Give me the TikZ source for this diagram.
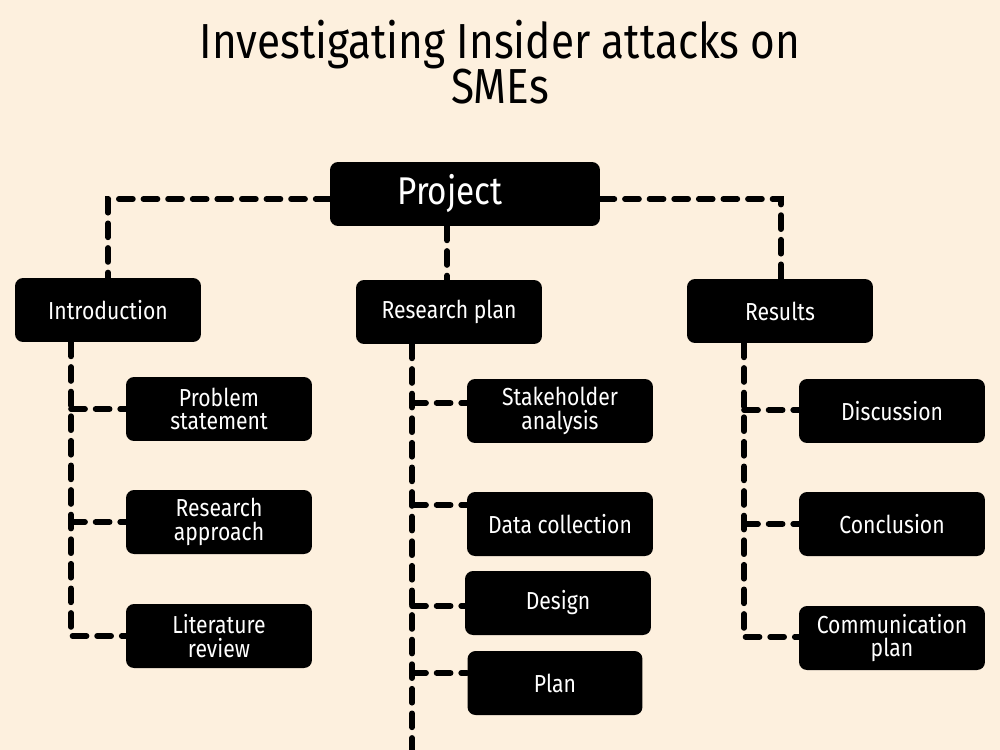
\documentclass[tikz,border=0pt]{standalone}
\usepackage{fontspec}
\setmainfont{Fira Sans}[FakeStretch=0.86]
\definecolor{cream}{HTML}{FDF0DE}
\tikzset{
	box/.style={fill=black, text=white, rounded corners=0.16cm, minimum width=3.72cm, minimum height=1.28cm, align=center, font=\fontsize{14}{13.5}\selectfont, inner sep=2pt},
	link/.style={line width=3.2pt, dash pattern=on 8pt off 6pt, line cap=round}
}
\begin{document}
\begin{tikzpicture}[x=0.02cm, y=-0.02cm]
		\fill[cream] (0,0) rectangle (1000,750);
		\useasboundingbox (0,0) rectangle (1000,750);
		
		\node (title) at (500,62) [align=center, font=\fontsize{28}{26}\selectfont] {Investigating Insider attacks on\\SMEs};
		
		\node[box, minimum width=5.4cm, font=\fontsize{22}{24}\selectfont] (proj) at (465,194) {Project\hspace{0.6cm}};
		
		\node[box] (intro) at (108,310) {Introduction};
		\node[box] (rplan) at (449,312) {Research plan};
		\node[box] (res) at (780,311) {Results};
		
		\node[box] (prob) at (219,409) {Problem\\statement};
		\node[box] (appr) at (219,522) {Research\\approach};
		\node[box] (lit) at (219,636) {Literature\\review};
		
		\node[box] (stake) at (560,411) {Stakeholder\\analysis};
		\node[box] (data) at (560,524) {Data collection};
		\node[box] (design) at (558,603) {Design};
		\node[box, minimum width=3.5cm] (plan) at (555,683) {Plan};
		
		\node[box] (disc) at (892,411) {Discussion};
		\node[box] (concl) at (892,524) {Conclusion};
		\node[box] (comm) at (892,638) {Communication\\plan};
		
		% top level
		\coordinate (tl) at (108,199);
		\coordinate (tr) at (781,199);
		\draw[link] (proj.west |- tl) -- (tl) -- (intro.north -| tl);
		\draw[link] (proj.east |- tr) -- (tr) -- (res.north -| tr);
		\draw[link] (proj.south -| 447,0) -- (rplan.north -| 447,0);
		
		% introduction
		\coordinate (ia) at (71,409);
		\coordinate (ib) at (71,522);
		\coordinate (ic) at (71,636);
		\draw[link] (intro.south -| ia) -- (ic) -- (lit.west);
		\draw[link] (ia) -- (prob.west);
		\draw[link] (ib) -- (appr.west);
		
		% research plan
		\coordinate (ra) at (412,403);
		\coordinate (rb) at (412,505);
		\coordinate (rc) at (412,606);
		\coordinate (rd) at (412,673);
		\coordinate (re) at (412,750);
		\draw[link] (rplan.south -| ra) -- (re);
		\draw[link] (ra) -- (stake.west |- ra);
		\draw[link] (rb) -- (data.west |- rb);
		\draw[link] (rc) -- (design.west |- rc);
		\draw[link] (rd) -- (plan.west |- rd);
		
		% results
		\coordinate (sa) at (744,410);
		\coordinate (sb) at (744,524);
		\coordinate (sc) at (744,637);
		\draw[link] (res.south -| sa) -- (sc) -- (comm.west |- sc);
		\draw[link] (sa) -- (disc.west |- sa);
		\draw[link] (sb) -- (concl.west |- sb);

	\end{tikzpicture}
\end{document}
